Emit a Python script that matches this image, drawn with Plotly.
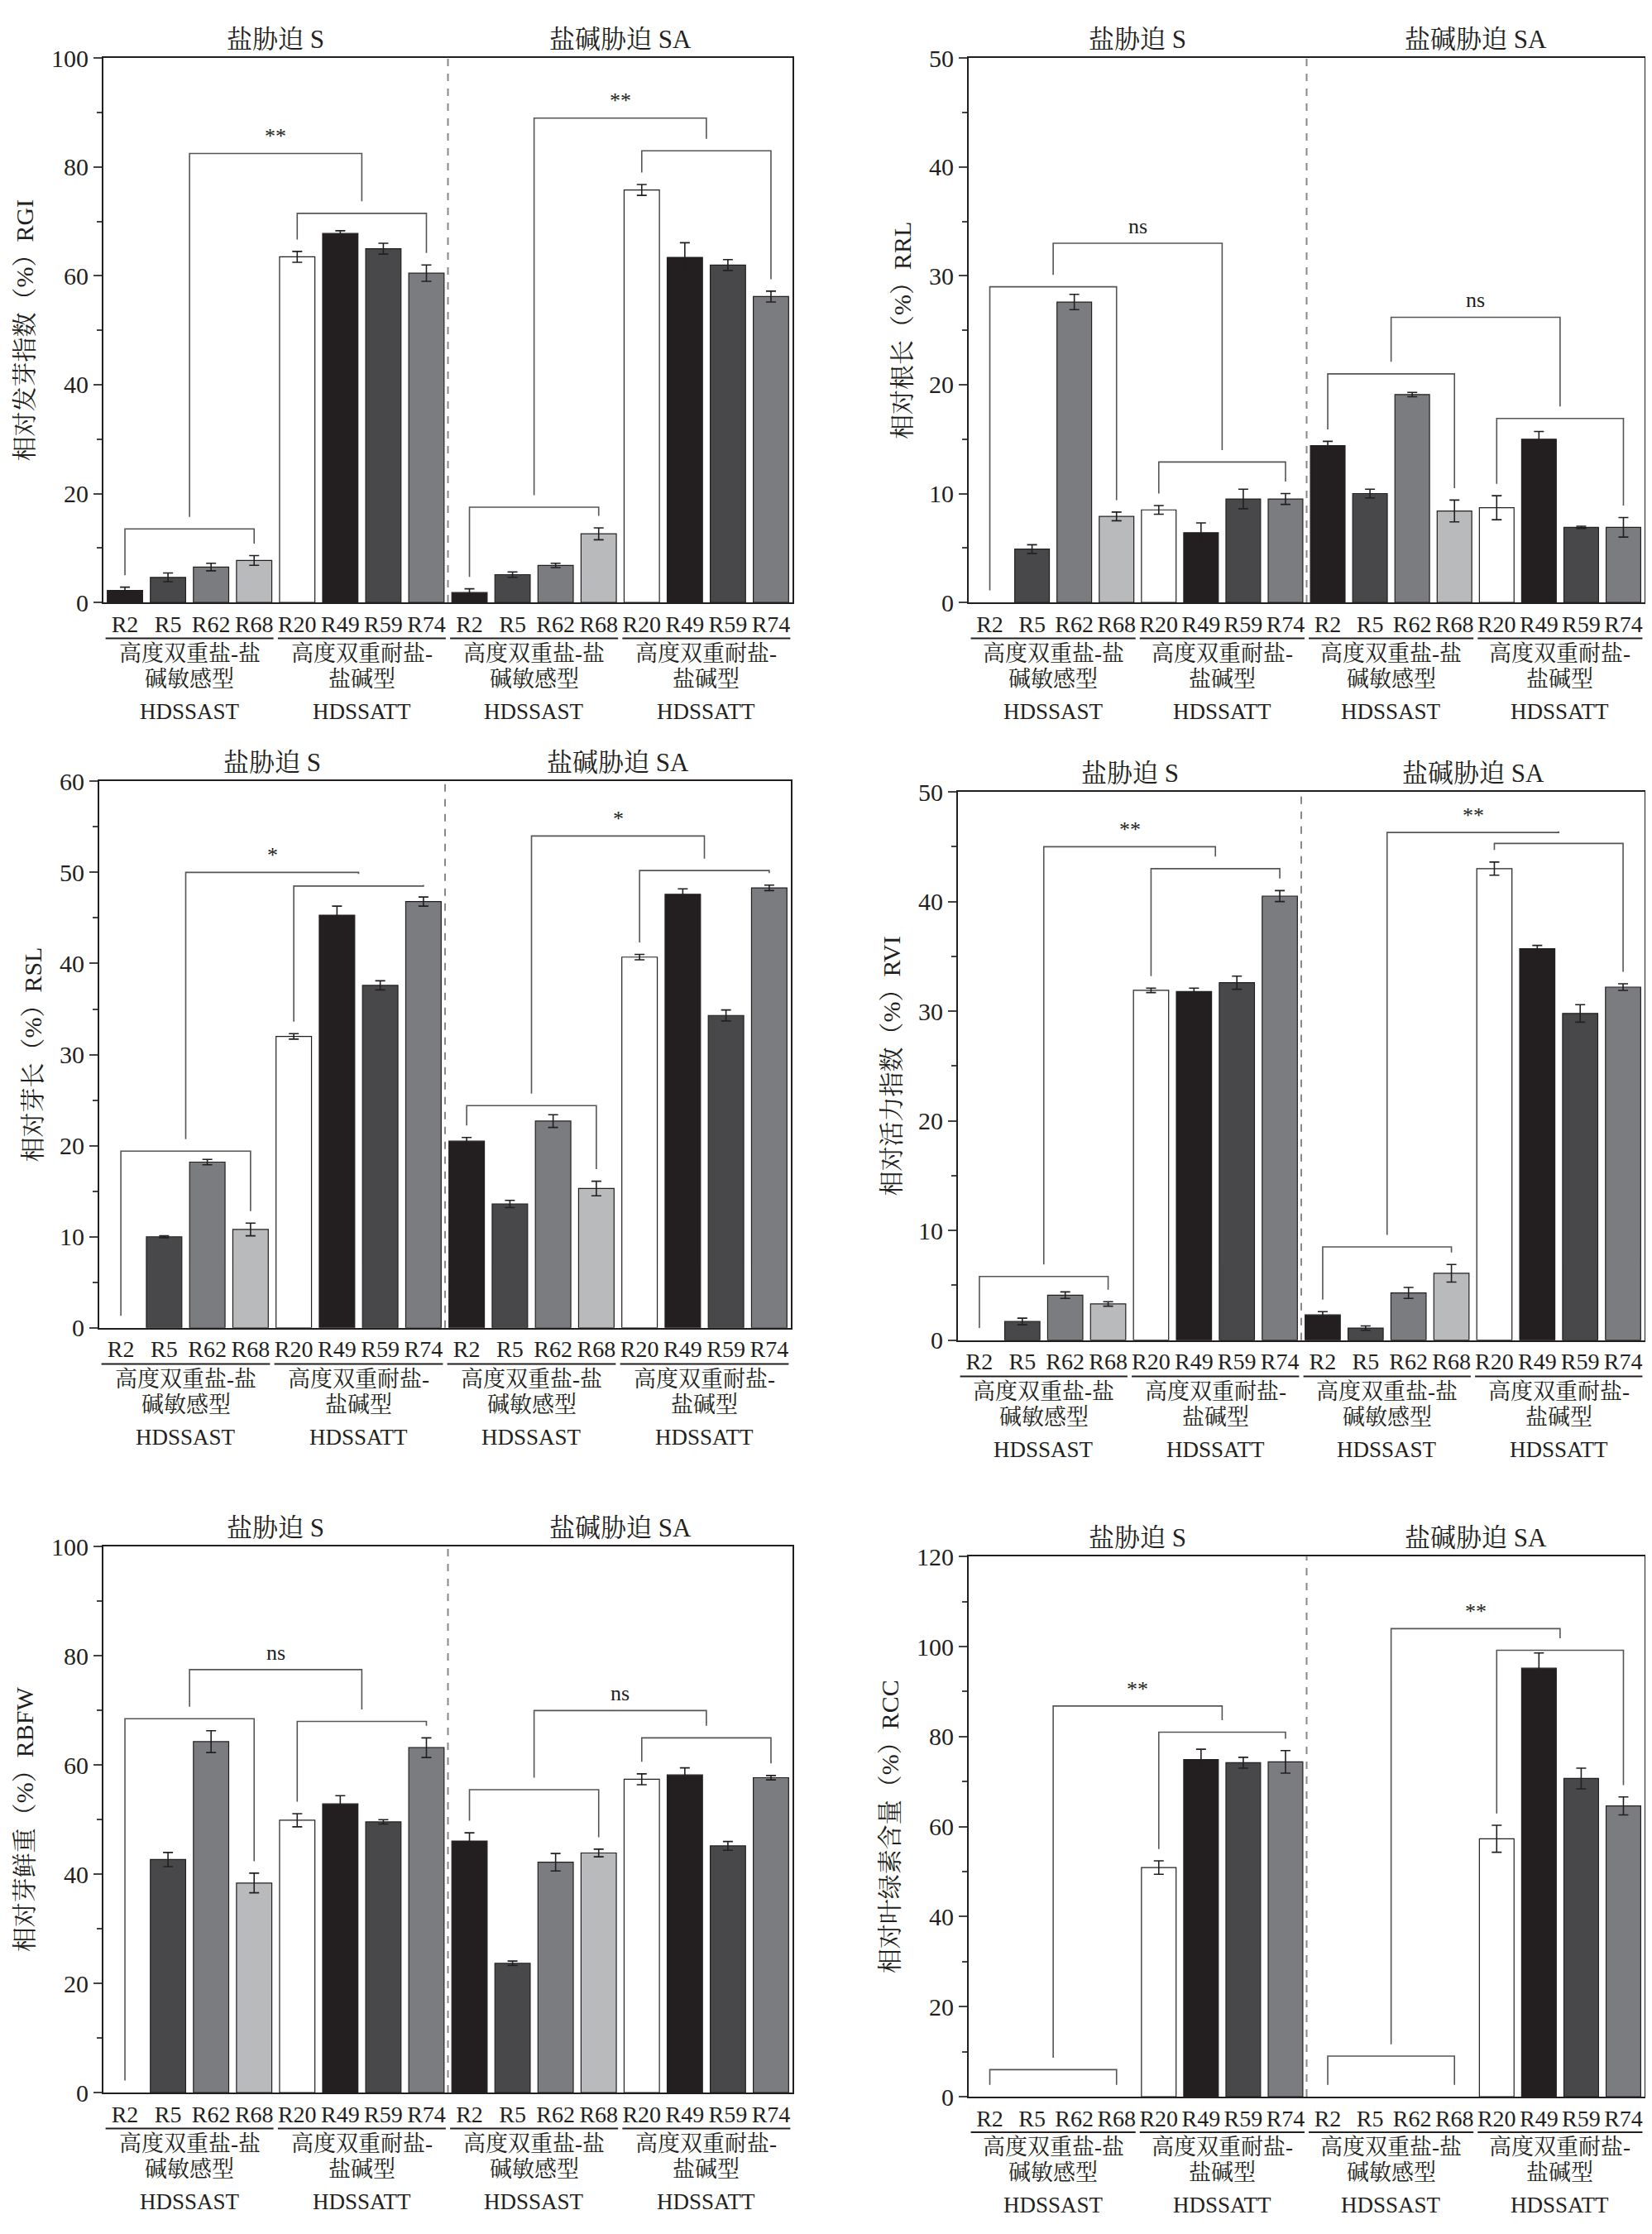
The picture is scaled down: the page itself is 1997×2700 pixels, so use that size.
import plotly.graph_objects as go

CATS = ["R2", "R5", "R62", "R68", "R20", "R49", "R59", "R74"] * 2
COLORS = ["#231f20", "#48484b", "#7b7c80", "#b9babc", "#ffffff", "#231f20", "#48484b", "#7b7c80"] * 2

# values: salt S (8) then saline-alkali SA (8); None = no bar
rgi = [2.2, 4.6, 6.5, 7.7, 63.5, 67.8, 65.0, 60.5, 1.8, 5.1, 6.8, 12.6, 75.8, 63.4, 62.0, 56.2]
rgi_err = [0.6, 0.8, 0.7, 0.9, 1.0, 0.5, 1.0, 1.5, 0.7, 0.5, 0.4, 1.1, 1.0, 2.7, 1.0, 1.0]
rrl = [None, 4.9, 27.6, 7.9, 8.5, 6.4, 9.5, 9.5, 14.4, 10.0, 19.1, 8.4, 8.7, 15.0, 6.9, 6.9]
rrl_err = [0, 0.4, 0.7, 0.4, 0.4, 0.9, 0.9, 0.5, 0.4, 0.4, 0.2, 1.0, 1.1, 0.7, 0.1, 0.9]
rsl = [None, 10.0, 18.2, 10.8, 32.0, 45.3, 37.6, 46.8, 20.5, 13.6, 22.7, 15.3, 40.7, 47.6, 34.3, 48.3]
rsl_err = [0, 0.1, 0.3, 0.7, 0.3, 1.0, 0.5, 0.5, 0.4, 0.4, 0.7, 0.8, 0.3, 0.6, 0.6, 0.3]
rvi = [None, 1.7, 4.1, 3.3, 31.9, 31.8, 32.6, 40.5, 2.3, 1.1, 4.3, 6.1, 43.0, 35.7, 29.8, 32.2]
rvi_err = [0, 0.3, 0.3, 0.2, 0.2, 0.3, 0.6, 0.5, 0.3, 0.2, 0.5, 0.8, 0.6, 0.3, 0.8, 0.3]
rbfw = [None, 42.7, 64.3, 38.4, 49.9, 52.9, 49.6, 63.2, 46.1, 23.7, 42.2, 43.9, 57.4, 58.2, 45.2, 57.7]
rbfw_err = [0, 1.3, 2.0, 1.8, 1.2, 1.5, 0.4, 1.8, 1.5, 0.4, 1.6, 0.7, 1.0, 1.3, 0.8, 0.4]
rcc = [None, None, None, None, 50.9, 74.9, 74.2, 74.4, None, None, None, None, 57.3, 95.2, 70.7, 64.6]
rcc_err = [0, 0, 0, 0, 1.5, 2.3, 1.2, 2.5, 0, 0, 0, 0, 3.0, 3.4, 2.3, 2.0]

# bracket levels per stress: (sensitive bracket, tolerant bracket, connector top, label)
rgi_br = [(13.5, 71.5, 82.5, "**"), (17.5, 83.0, 89.0, "**")]
rrl_br = [(29.0, 12.9, 33.0, "ns"), (21.0, 16.9, 26.2, "ns")]
rsl_br = [(19.4, 48.5, 50.0, "*"), (24.4, 50.2, 54.0, "*")]
rvi_br = [(5.8, 43.0, 45.0, "**"), (8.5, 45.3, 46.3, "**")]
rbfw_br = [(68.5, 68.0, 77.5, "ns"), (55.5, 65.0, 70.0, "ns")]
rcc_br = [(6.0, 81.0, 86.8, "**"), (9.0, 99.2, 104.0, "**")]

STRESS = ["盐胁迫 S", "盐碱胁迫 SA"]
GROUP_L1 = ["高度双重盐-盐", "高度双重耐盐-"]
GROUP_L2 = ["碱敏感型", "盐碱型"]
GROUP_L3 = ["HDSSAST", "HDSSATT"]

FONT = "Times New Roman, Liberation Serif, Noto Serif CJK SC, Noto Sans CJK SC"
W, H = 1997, 2700

panels = [
    (rgi, rgi_err, rgi_br, 100, 20, "相对发芽指数（%）RGI", (117, 950, 46, 712)),
    (rrl, rrl_err, rrl_br, 50, 10, "相对根长（%）RRL", (1163, 1980, 46, 712)),
    (rsl, rsl_err, rsl_br, 60, 10, "相对芽长（%）RSL", (112, 948, 931, 1600)),
    (rvi, rvi_err, rvi_br, 50, 10, "相对活力指数（%）RVI", (1150, 1980, 944, 1615)),
    (rbfw, rbfw_err, rbfw_br, 100, 20, "相对芽鲜重（%）RBFW", (117, 950, 1868, 2536)),
    (rcc, rcc_err, rcc_br, 120, 20, "相对叶绿素含量（%）RCC", (1163, 1980, 1880, 2541)),
]

fig = go.Figure()
layout = {}
shapes = []
annots = []
LC = "#555555"

for i, (vals, errs, brs, ymax, dt, ytitle, box) in enumerate(panels):
    n = "" if i == 0 else str(i + 1)
    xa, ya = "x" + n, "y" + n
    x0, x1, y0, y1 = box
    idx = [k for k in range(16) if vals[k] is not None]
    fig.add_trace(go.Bar(
        x=idx, y=[vals[k] for k in idx], xaxis=xa, yaxis=ya, width=0.82,
        marker=dict(color=[COLORS[k] for k in idx], line=dict(color="#231f20", width=1.2)),
        error_y=dict(type="data", array=[errs[k] for k in idx], color="#231f20", thickness=1.6, width=6),
        showlegend=False,
    ))
    layout["xaxis" + n] = dict(
        domain=[x0 / W, x1 / W], anchor=ya, range=[-0.5, 15.5], tickvals=list(range(16)),
        ticktext=CATS, ticks="", showgrid=False, zeroline=False, showline=True, mirror=True,
        linecolor="#231f20", linewidth=2, tickfont=dict(size=28, family=FONT, color="#231f20"),
    )
    layout["yaxis" + n] = dict(
        domain=[1 - y1 / H, 1 - y0 / H], anchor=xa, range=[0, ymax], dtick=dt, ticks="outside",
        ticklen=10, tickwidth=2, minor=dict(ticks="outside", ticklen=6, dtick=dt / 2),
        showgrid=False, zeroline=False, showline=True, mirror=True, linecolor="#231f20",
        linewidth=2, tickfont=dict(size=30, family=FONT, color="#231f20"),
        title=dict(text=ytitle, font=dict(size=30, family=FONT, color="#231f20"), standoff=12),
    )
    ydom = ya + " domain"
    pad = ymax * 0.022
    # dashed separator
    shapes.append(dict(type="line", xref=xa, yref=ydom, x0=7.5, x1=7.5, y0=0, y1=1,
                       line=dict(color="#888888", width=2, dash="dash")))
    for s in range(2):
        off = 8 * s
        annots.append(dict(text=STRESS[s], xref=xa, yref=ydom, x=off + 3.5, y=1.005, yanchor="bottom",
                           showarrow=False, font=dict(size=31, family=FONT, color="#231f20")))
        for g in range(2):
            a = off + 4 * g
            shapes.append(dict(type="line", xref=xa, yref=ydom, x0=a - 0.45, x1=a + 3.45,
                               y0=-0.066, y1=-0.066, line=dict(color="#231f20", width=2)))
            for txt, yy in ((GROUP_L1[g], -0.094), (GROUP_L2[g], -0.141), (GROUP_L3[g], -0.2)):
                annots.append(dict(text=txt, xref=xa, yref=ydom, x=a + 1.5, y=yy, yanchor="middle",
                                   showarrow=False, font=dict(size=27, family=FONT, color="#231f20")))
        ys, yt, ytop, lab = brs[s]

        def top(k):
            v = vals[k] if vals[k] is not None else 0
            return v + errs[k] + pad

        # sensitive bracket
        shapes.append(dict(type="path", xref=xa, yref=ya, line=dict(color=LC, width=1.6),
                           path=f"M {off},{top(off)} L {off},{ys} L {off + 3},{ys} L {off + 3},{top(off + 3)}"))
        # tolerant bracket
        shapes.append(dict(type="path", xref=xa, yref=ya, line=dict(color=LC, width=1.6),
                           path=f"M {off + 4},{top(off + 4)} L {off + 4},{yt} L {off + 7},{yt} L {off + 7},{top(off + 7)}"))
        # connector
        shapes.append(dict(type="path", xref=xa, yref=ya, line=dict(color=LC, width=1.6),
                           path=f"M {off + 1.5},{ys + pad} L {off + 1.5},{ytop} L {off + 5.5},{ytop} L {off + 5.5},{yt + pad}"))
        annots.append(dict(text=lab, xref=xa, yref=ya, x=off + 3.5, y=ytop + pad * 0.3, yanchor="bottom",
                           showarrow=False, font=dict(size=26, family=FONT, color="#231f20")))

fig.update_layout(
    width=W, height=H, margin=dict(l=0, r=0, t=0, b=0), plot_bgcolor="white",
    paper_bgcolor="white", shapes=shapes, annotations=annots, bargap=0.1, **layout,
)

fig.write_html("out.html")
